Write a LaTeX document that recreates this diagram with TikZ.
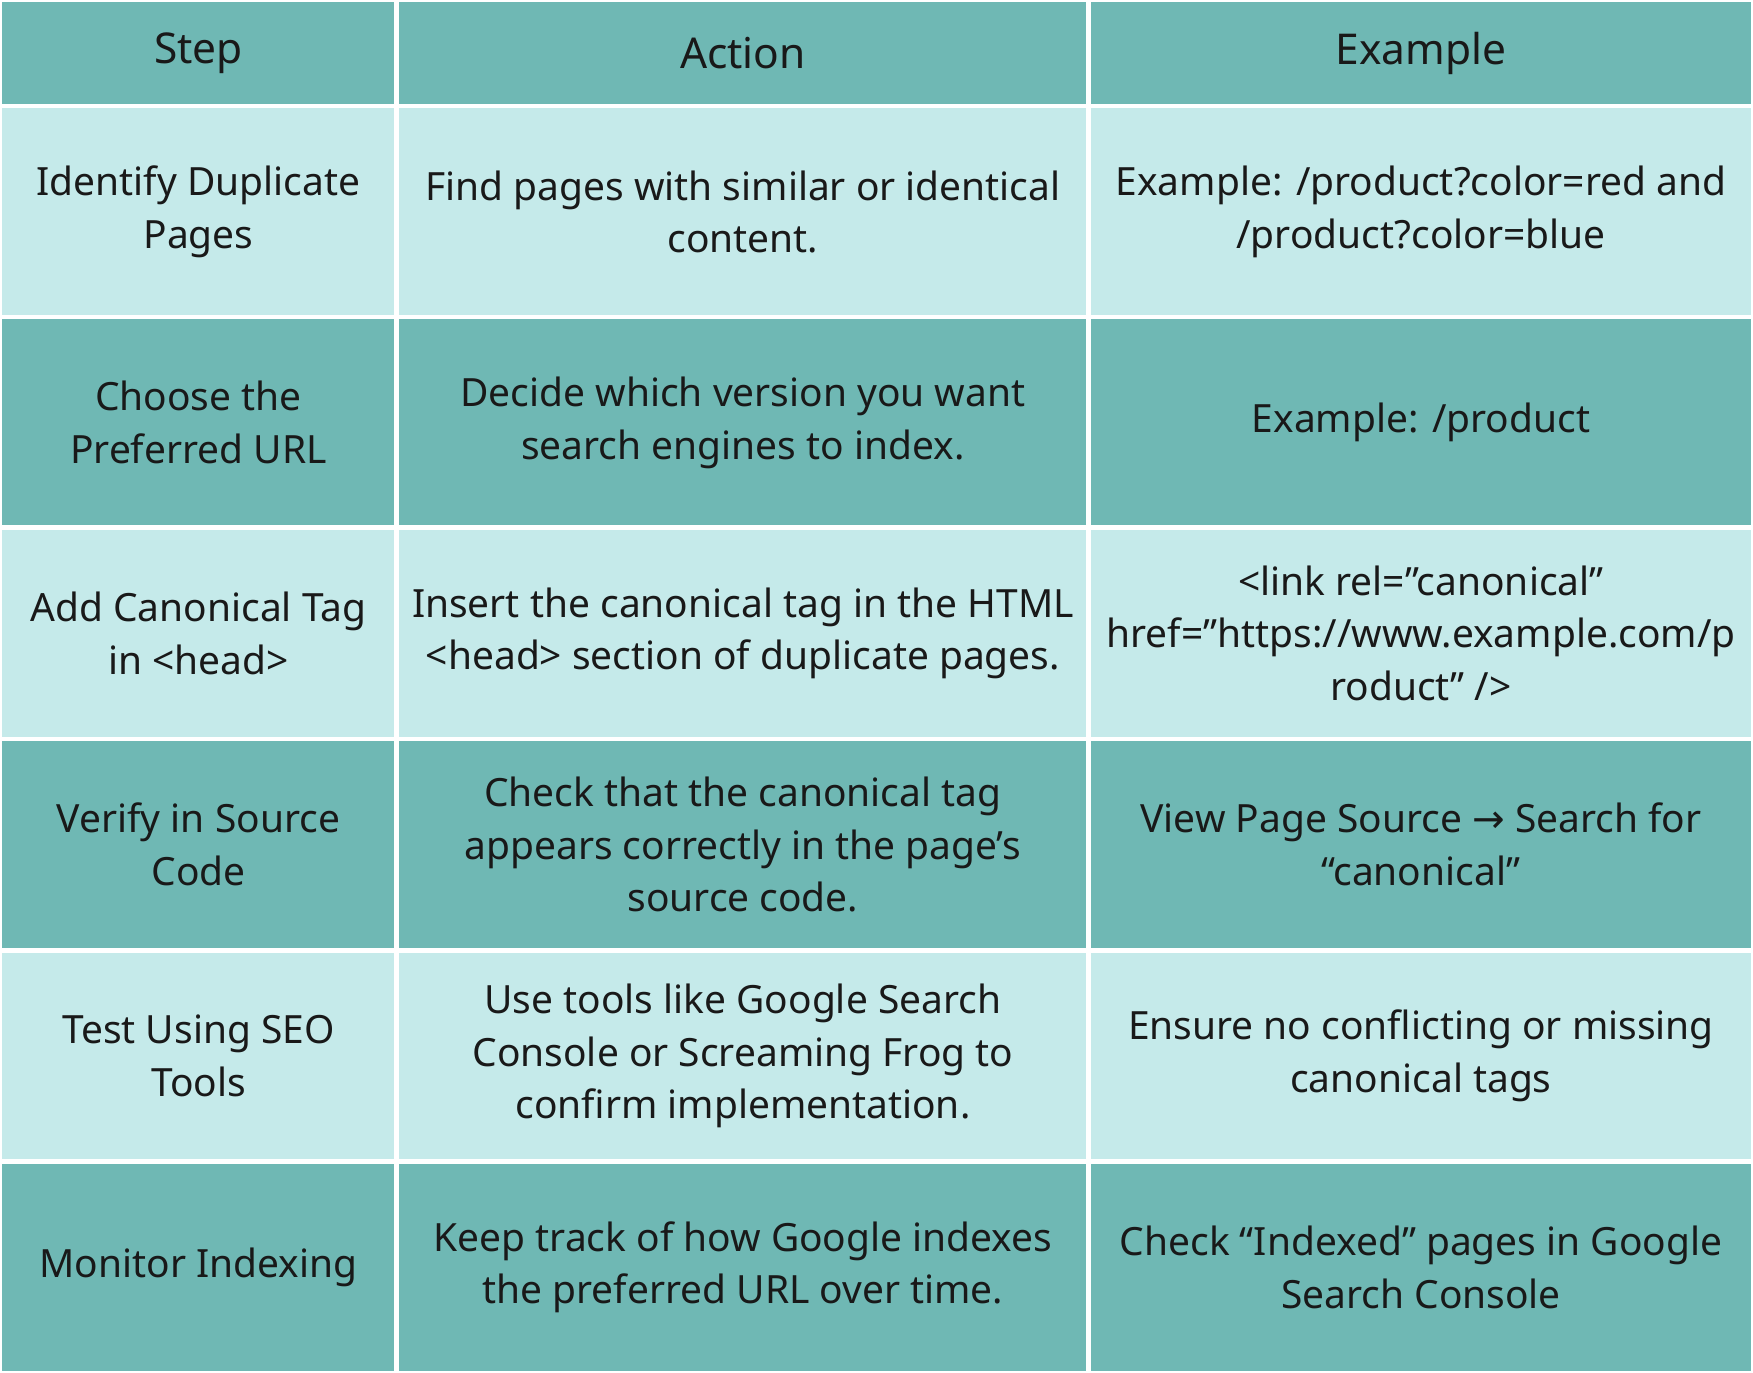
\documentclass[tikz,border=0pt]{standalone}
\usepackage{fontspec}
\setmainfont{Noto Sans}
\newfontfamily\symfont{DejaVu Sans}
\definecolor{tealdark}{HTML}{6FB8B4}
\definecolor{teallight}{HTML}{C5EAEA}
\tikzset{
  cell/.style={draw=white, line width=1.2pt, inner sep=0pt, align=center,
    font=\fontsize{9.9}{13.4}\selectfont, text=black!90},
  headcell/.style={cell, fill=tealdark, font=\fontsize{10.8}{14}\selectfont\bfseries},
  stepcell/.style={cell, font=\fontsize{9.9}{13.4}\selectfont\bfseries}
}
\begin{document}
\begin{tikzpicture}[x=0.01cm,y=-0.01cm]
  \useasboundingbox (0,0) rectangle (1568,1228);
  % header
  \node[headcell, minimum width=3.55cm, minimum height=0.95cm] (hstep) at (177.5,47.5) {Step};
  \node[headcell, minimum width=6.19cm, minimum height=0.95cm] (hact) at (664.5,47.5) {Action};
  \node[headcell, minimum width=5.94cm, minimum height=0.95cm] (hex) at (1271,47.5) {Example};
  % rows
  \foreach \r/\y/\c in {1/189.5/teallight, 2/378/tealdark, 3/566.5/teallight,
                        4/755.5/tealdark, 5/944.5/teallight, 6/1133.5/tealdark} {
    \node[cell, fill=\c, minimum width=3.55cm, minimum height=1.89cm] (s\r) at (177.5,\y) {};
    \node[cell, fill=\c, minimum width=6.19cm, minimum height=1.89cm] (a\r) at (664.5,\y) {};
    \node[cell, fill=\c, minimum width=5.94cm, minimum height=1.89cm] (e\r) at (1271,\y) {};
  }
  % texts
  \node[stepcell, draw=none] at (s1) {Identify Duplicate\\Pages};
  \node[cell, draw=none] at (a1) {Find pages with similar or identical\\content.};
  \node[cell, draw=none] at (e1) {Example: /product?color=red and\\/product?color=blue};
  \node[stepcell, draw=none] at (s2) {Choose the\\Preferred URL};
  \node[cell, draw=none] at (a2) {Decide which version you want\\search engines to index.};
  \node[cell, draw=none] at (e2) {Example: /product};
  \node[stepcell, draw=none] at (s3) {Add Canonical Tag\\in <head>};
  \node[cell, draw=none] at (a3) {Insert the canonical tag in the HTML\\<head> section of duplicate pages.};
  \node[cell, draw=none] at (e3) {<link rel="canonical"\\href="https://www.example.com/p\\roduct" />};
  \node[stepcell, draw=none] at (s4) {Verify in Source\\Code};
  \node[cell, draw=none] at (a4) {Check that the canonical tag\\appears correctly in the page’s\\source code.};
  \node[cell, draw=none] at (e4) {View Page Source {\symfont →} Search for\\“canonical”};
  \node[stepcell, draw=none] at (s5) {Test Using SEO\\Tools};
  \node[cell, draw=none] at (a5) {Use tools like Google Search\\Console or Screaming Frog to\\confirm implementation.};
  \node[cell, draw=none] at (e5) {Ensure no conflicting or missing\\canonical tags};
  \node[stepcell, draw=none] at (s6) {Monitor Indexing};
  \node[cell, draw=none] at (a6) {Keep track of how Google indexes\\the preferred URL over time.};
  \node[cell, draw=none] at (e6) {Check “Indexed” pages in Google\\Search Console};
\end{tikzpicture}
\end{document}
